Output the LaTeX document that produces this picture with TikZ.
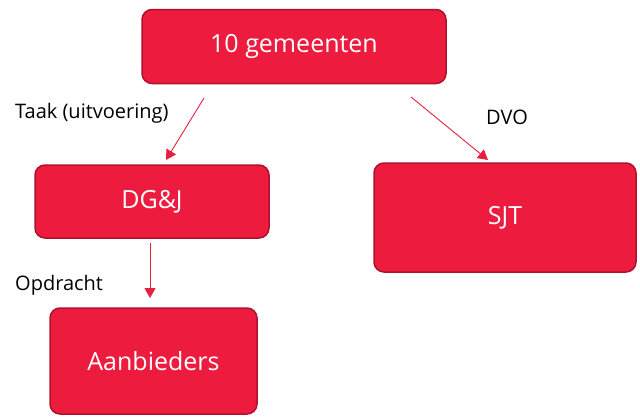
\documentclass[tikz,border=0pt]{standalone}
\usepackage{fontspec}
\setmainfont{Open Sans}
\usetikzlibrary{arrows.meta}
\definecolor{boxred}{HTML}{ED1B3E}
\definecolor{boxedge}{HTML}{B0122D}
\definecolor{arrred}{HTML}{E8203F}
\tikzset{
  redbox/.style={draw=boxedge, line width=1.5pt, fill=boxred, rounded corners=10pt, text=white, font=\fontsize{25}{28}\selectfont, inner sep=0pt},
  conn/.style={draw=arrred, line width=0.9pt, -{Triangle[length=10pt,width=11pt]}},
  lbl/.style={font=\fontsize{20}{22}\selectfont, text=black, inner sep=0pt}
}
\begin{document}
\begin{tikzpicture}[x=1pt,y=-1pt]
\useasboundingbox (0,0) rectangle (640,416);
\node[redbox, minimum width=304pt, minimum height=74pt] (top) at (294,46.5) {10 gemeenten};
\node[redbox, minimum width=234pt, minimum height=73pt] (dgj) at (152,201.5) {DG\&J};
\node[redbox, minimum width=262pt, minimum height=109pt] (sjt) at (505,217.5) {SJT};
\node[redbox, minimum width=207pt, minimum height=106pt] (aan) at (153.5,361) {Aanbieders};
\coordinate (t1) at (204,98);
\coordinate (t2) at (166,160);
\coordinate (d1) at (411,97);
\coordinate (d2) at (488,160);
\coordinate (o1) at (150,243);
\coordinate (o2) at (150,298);
\draw[conn] (t1) -- (t2);
\draw[conn] (d1) -- (d2);
\draw[conn] (o1) -- (o2);
\node[lbl, anchor=west] (ltaak) at (15,113) {Taak (uitvoering)};
\node[lbl] (ldvo) at (507,117) {DVO};
\node[lbl, anchor=west] (lopd) at (15,285) {Opdracht};
\end{tikzpicture}
\end{document}
